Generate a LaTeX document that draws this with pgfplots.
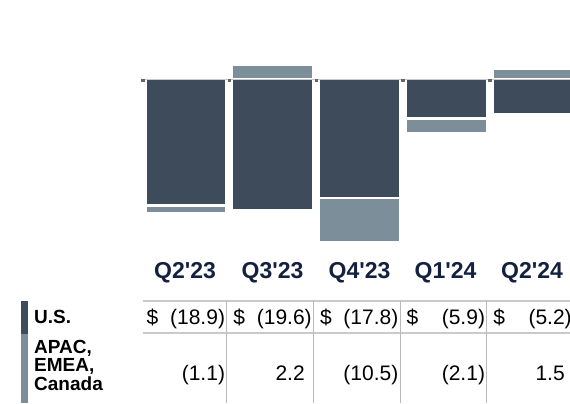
\documentclass[border=0pt]{standalone}
\usepackage{pgfplots}
\pgfplotsset{compat=1.18}
\usepackage{pgfplotstable}
\usepackage{fontspec}
\setmainfont{Liberation Sans}
\definecolor{usc}{HTML}{3D4B5A}
\definecolor{apc}{HTML}{7D8E9B}
\definecolor{hdr}{HTML}{13213F}
\definecolor{linec}{HTML}{CACACA}
\definecolor{vlinec}{HTML}{B8B8B8}
\pgfplotstableread{
x us apac
0 -18.9 -1.1
1 -19.6 2.2
2 -17.8 -10.5
3 -5.9 -2.1
4 -5.2 1.5
}\data
\begin{document}
\begin{tikzpicture}[x=1bp,y=1bp]
\useasboundingbox (0,0) rectangle (570,403);
\begin{axis}[at={(138.3bp,162.3bp)}, anchor=south west, scale only axis,
  width=431.7bp, height=180.7bp,
  xmin=-0.55, xmax=4.4265, ymin=-24.14, ymax=2.87,
  axis line style={draw=none}, xtick=\empty, ytick=\empty,
  ybar, bar width=81bp, clip=true]
% APAC negative part (drawn cumulatively below U.S.)
\addplot[fill=apc, draw=white, line width=2.4bp, bar shift=0pt]
  table[x=x, y expr={(\thisrow{apac}<0)*(\thisrow{us}+\thisrow{apac})}]{\data};
% U.S.
\addplot[fill=usc, draw=white, line width=2.4bp, bar shift=0pt]
  table[x=x, y=us]{\data};
% APAC positive part
\addplot[fill=apc, draw=white, line width=2.4bp, bar shift=0pt]
  table[x=x, y expr={max(\thisrow{apac},0)}]{\data};
% zero line and small markers
\addplot[sharp plot, draw=linec, line width=0.9bp, mark=none]
  coordinates {(-0.5,0) (4.5,0)};
\addplot[only marks, mark=square*, mark size=1.3bp, color=black!60]
  coordinates {(-0.5,-0.12) (0.5,-0.12) (1.5,-0.12) (2.5,-0.12) (3.5,-0.12)};
\end{axis}
% header
\begin{scope}[every node/.style={anchor=base, inner sep=0pt, text=hdr, font=\fontsize{23bp}{25bp}\selectfont\bfseries}]
\node at (185,125) {Q2\textquotesingle 23};
\node at (272.5,125) {Q3\textquotesingle 23};
\node at (359.5,125) {Q4\textquotesingle 23};
\node at (445.5,125) {Q1\textquotesingle 24};
\node at (532,125) {Q2\textquotesingle 24};
\end{scope}
% table lines
\draw[linec, line width=1.2bp] (142.7,102) -- (570,102);
\draw[linec, line width=1.2bp] (142.7,70) -- (570,70);
\foreach \xx in {226.7,313.4,400.0,486.7}
  \draw[vlinec, line width=1bp] (\xx,102) -- (\xx,0);
% legend swatches
\fill[usc] (20.5,69) rectangle (28,102);
\fill[apc] (20.5,0) rectangle (28,69);
% row labels
\begin{scope}[every node/.style={anchor=base west, inner sep=0pt, font=\fontsize{19bp}{19bp}\selectfont\bfseries}]
\node at (34,79.7) {U.S.};
\node at (34,49.5) {APAC,};
\node at (34,31.2) {EMEA,};
\node at (34,13) {Canada};
\end{scope}
% row 1
\begin{scope}[every node/.style={inner sep=0pt, font=\fontsize{21bp}{23bp}\selectfont}]
\node[anchor=base west] at (146.5,78.5) {\$};
\node[anchor=base west] at (233.2,78.5) {\$};
\node[anchor=base west] at (319.9,78.5) {\$};
\node[anchor=base west] at (406.5,78.5) {\$};
\node[anchor=base west] at (493.2,78.5) {\$};
\node[anchor=base east] at (225.2,78.5) {(18.9)};
\node[anchor=base east] at (311.9,78.5) {(19.6)};
\node[anchor=base east] at (398.5,78.5) {(17.8)};
\node[anchor=base east] at (485.2,78.5) {(5.9)};
\node[anchor=base east] at (571.9,78.5) {(5.2)};
% row 2
\node[anchor=base east] at (225.2,23) {(1.1)};
\node[anchor=base east] at (311.9,23) {2.2\phantom{)}};
\node[anchor=base east] at (398.5,23) {(10.5)};
\node[anchor=base east] at (485.2,23) {(2.1)};
\node[anchor=base east] at (571.9,23) {1.5\phantom{)}};
\end{scope}
\end{tikzpicture}
\end{document}
